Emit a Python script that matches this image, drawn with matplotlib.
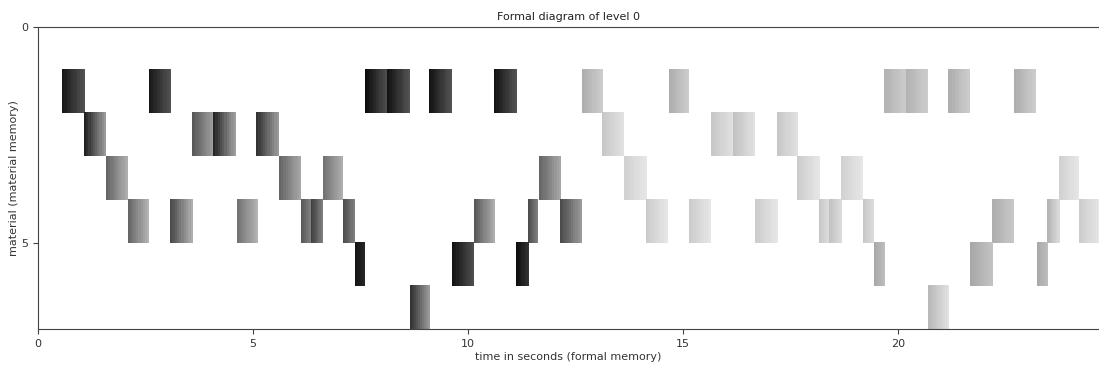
import numpy as np
import matplotlib
matplotlib.use("Agg")
import matplotlib.pyplot as plt

# blocks: start time, end time, material row, grey at start / end (0 black, 1 white)
block_start = [0.55, 2.57, 7.60, 8.11, 9.10, 10.60,
               1.07, 3.59, 4.08, 5.08,
               1.58, 5.60, 6.63, 11.64,
               2.09, 3.08, 4.62, 6.12, 6.35, 7.10, 10.13, 11.40, 12.14,
               7.37, 9.62, 11.12,
               8.64,
               12.65, 14.67, 19.67, 20.19, 21.17, 22.70,
               13.12, 15.64, 16.17, 17.19,
               13.63, 17.66, 18.68, 23.74,
               14.15, 15.13, 16.67, 18.17, 18.39, 19.19, 22.19, 23.46, 24.20,
               19.43, 21.67, 23.22,
               20.69]
block_end = [1.07, 3.08, 8.11, 8.63, 9.62, 11.12,
             1.58, 4.08, 4.60, 5.60,
             2.09, 6.10, 7.09, 12.14,
             2.56, 3.60, 5.09, 6.35, 6.62, 7.37, 10.60, 11.63, 12.65,
             7.60, 10.13, 11.40,
             9.10,
             13.12, 15.13, 20.19, 20.69, 21.67, 23.21,
             13.63, 16.17, 16.67, 17.66,
             14.15, 18.19, 19.19, 24.20,
             14.66, 15.64, 17.19, 18.39, 18.68, 19.43, 22.70, 23.74, 24.67,
             19.67, 22.19, 23.46,
             21.16]
block_row = [1, 1, 1, 1, 1, 1,
             2, 2, 2, 2,
             3, 3, 3, 3,
             4, 4, 4, 4, 4, 4, 4, 4, 4,
             5, 5, 5,
             6,
             1, 1, 1, 1, 1, 1,
             2, 2, 2, 2,
             3, 3, 3, 3,
             4, 4, 4, 4, 4, 4, 4, 4, 4,
             5, 5, 5,
             6]
shade_start = [0.10, 0.10, 0.05, 0.08, 0.08, 0.08,
               0.13, 0.35, 0.15, 0.20,
               0.40, 0.40, 0.45, 0.40,
               0.40, 0.30, 0.45, 0.35, 0.25, 0.30, 0.35, 0.30, 0.30,
               0.08, 0.08, 0.05,
               0.20,
               0.68, 0.68, 0.70, 0.70, 0.68, 0.68,
               0.78, 0.78, 0.76, 0.78,
               0.82, 0.80, 0.82, 0.82,
               0.80, 0.80, 0.80, 0.78, 0.76, 0.78, 0.68, 0.70, 0.80,
               0.66, 0.66, 0.66,
               0.72]
shade_end = [0.32, 0.32, 0.30, 0.32, 0.32, 0.32,
             0.60, 0.62, 0.62, 0.60,
             0.68, 0.65, 0.68, 0.65,
             0.70, 0.68, 0.70, 0.50, 0.50, 0.50, 0.68, 0.50, 0.60,
             0.15, 0.30, 0.20,
             0.60,
             0.80, 0.80, 0.80, 0.80, 0.80, 0.80,
             0.88, 0.88, 0.88, 0.88,
             0.90, 0.90, 0.90, 0.90,
             0.90, 0.90, 0.90, 0.86, 0.86, 0.86, 0.78, 0.86, 0.90,
             0.74, 0.76, 0.74,
             0.88]

xticks = [0, 5, 10, 15, 20]
yticks = [0, 5]

fig = plt.figure(figsize=(10.99, 3.67), dpi=100)
ax = fig.add_axes([0.0346, 0.1035, 0.9645, 0.8229])

for s, e, r, lo, hi in zip(block_start, block_end, block_row, shade_start, shade_end):
    grad = np.linspace(lo, hi, 10).reshape(1, -1)
    ax.imshow(grad, cmap="gray", vmin=0, vmax=1, aspect="auto",
              interpolation="nearest", extent=(s, e, r + 1, r))

ax.set_xlim(0, 24.65)
ax.set_ylim(7, 0)
ax.set_xticks(xticks)
ax.set_yticks(yticks)
ax.spines["right"].set_visible(False)
for sp in ["top", "left", "bottom"]:
    ax.spines[sp].set_color("#444444")
ax.tick_params(labelsize=8, length=3.5, colors="#444444", labelcolor="#333333")
ax.set_title("Formal diagram of level 0", fontsize=8, color="#222222", pad=5)
ax.set_xlabel("time in seconds (formal memory)", fontsize=8, color="#333333", labelpad=2)
ax.set_ylabel("material (material memory)", fontsize=8, color="#333333", labelpad=2)

fig.savefig("out.png", dpi=100)
